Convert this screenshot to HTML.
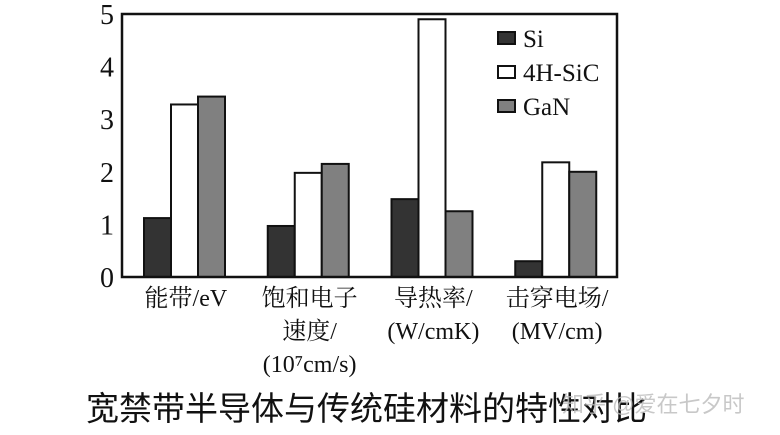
<!DOCTYPE html>
<html><head><meta charset="utf-8"><style>
body{margin:0;background:#fff;}
svg{display:block;}
.ser{font-family:"Liberation Serif","Noto Serif CJK SC",serif;}
</style></head><body>
<svg id="c" width="780" height="435">
<rect x="0" y="0" width="780" height="435" fill="#fff"/>
</svg>
<script>
const categories=[["能带/eV"],["饱和电子","速度/","(10⁷cm/s)"],["导热率/","(W/cmK)"],["击穿电场/","(MV/cm)"]];
const series=["Si","4H-SiC","GaN"];
const siValues=[1.12,0.97,1.48,0.3];
const sicValues=[3.28,1.98,4.9,2.18];
const ganValues=[3.43,2.15,1.25,2.0];
const yTicks=[0,1,2,3,4,5];
const fills=["#333","#fff","#808080"];
const NS="http://www.w3.org/2000/svg";
const svg=document.getElementById('c');
const L=122,R=617,T=14,B=277;
const y=v=>B-(B-T)*v/5;
const gw=(R-L)/4;
const x=(i,s)=>L+22+gw*i+s*27;
function mk(t,a){const e=document.createElementNS(NS,t);for(const k in a)e.setAttribute(k,a[k]);svg.appendChild(e);return e;}
const vals=[siValues,sicValues,ganValues];
vals.forEach((arr,s)=>arr.forEach((v,i)=>{
 const r=mk('rect',{x:x(i,s),y:y(v),width:27,height:B-y(v),fill:fills[s],stroke:'#111','stroke-width':2});
 
 
}));
const ax=mk('rect',{x:L,y:T,width:R-L,height:B-T,fill:'none',stroke:'#111','stroke-width':2.5});


yTicks.forEach(t=>{
 const tx=mk('text',{x:114,y:y(t)+10,'text-anchor':'end','font-size':28,class:'ser',fill:'#111'});
 tx.textContent=t;
 
 
});
categories.forEach((lines,i)=>{
 const cx=L+gw*i+gw/2+2;
 lines.forEach((ln,j)=>{
  const tx=mk('text',{x:cx,y:306+j*33,'text-anchor':'middle','font-size':24,class:'ser',fill:'#111'});
  tx.textContent=ln;
  
  
 });
});
series.forEach((s,k)=>{
 const r=mk('rect',{x:498,y:32+k*34,width:17,height:12,fill:fills[k],stroke:'#111','stroke-width':2});
 
 
 const tx=mk('text',{x:523,y:47+k*34,'font-size':25,class:'ser',fill:'#111'});
 tx.textContent=s;
 
 
});
const title=mk('text',{x:86,y:420,'font-size':33,fill:'#111','font-family':'"Liberation Sans","Noto Sans CJK SC",sans-serif'});
title.textContent='宽禁带半导体与传统硅材料的特性对比';


const wm=mk('text',{x:562,y:412,'font-size':22,fill:'#bbb',opacity:0.8,'font-family':'"Liberation Sans","Noto Sans CJK SC",sans-serif'});
wm.textContent='知乎 @爱在七夕时';


</script>
</body></html>
